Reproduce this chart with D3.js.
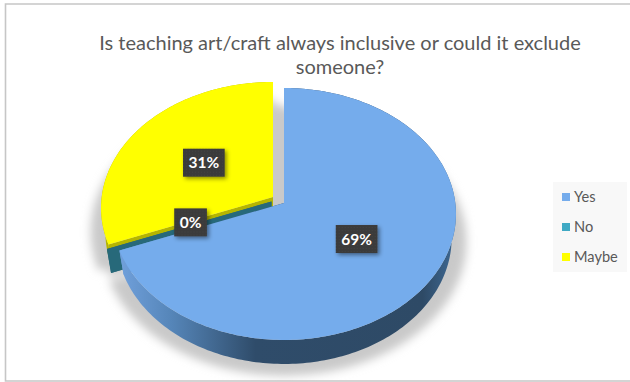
<!DOCTYPE html>
<html>
<head>
<meta charset="utf-8">
<script src="https://cdn.jsdelivr.net/npm/d3@7/dist/d3.min.js"></script>
<style>
  html, body { margin: 0; padding: 0; background: #fff; }
  svg { display: block; }
  text { font-family: Lato, "Open Sans", sans-serif; }
</style>
</head>
<body>
<script>
// Survey answers
const categories = ["Yes", "No", "Maybe"];
const shares = [69, 0, 31];
const titleLines = ["Is teaching art/craft always inclusive or could it exclude", "someone?"];
const topColors = ["#75acec", "#3fa9c4", "#ffff00"];

const width = 630, height = 382;
const svg = d3.select("body").append("svg").attr("width", width).attr("height", height);
const defs = svg.append("defs");

// Tilted-disc projection: the apex sits above the middle of the ellipse
const apex = { x: 284, y: 203 };
const tilt = -0.0873, radiusX = 171.3, radiusY = 125;
const depth = 24, bottomScale = 0.975;
const explode = [{ x: 0, y: 0 }, { x: -12.5, y: -1.5 }, { x: -11, y: -6 }];

function project(angle, r, off, lower) {
  const u = r * Math.sin(angle), v = -r * Math.cos(angle);
  const w = 1 + tilt * v;
  let x = radiusX * u / w, y = radiusY * v / w;
  if (lower) { x *= bottomScale; y += depth; }
  return [apex.x + off.x + x, apex.y + off.y + y];
}

const arcs = d3.pie().sort(null).value(d => d)(shares);
const line = d3.line();
const sweep = (a, off, lower) => {
  const n = Math.max(1, Math.ceil((a.endAngle - a.startAngle) / 0.02));
  return d3.range(n + 1).map(i =>
    project(a.startAngle + (a.endAngle - a.startAngle) * i / n, 1, off, lower));
};
const face = (a, off) => line([project(0, 0, off, false), ...sweep(a, off, false)]) + "Z";

// Soft ground shadow: each slice casts one at its exploded position and one at the closed position
defs.append("filter").attr("id", "ground").attr("x", "-20%").attr("y", "-20%")
  .attr("width", "140%").attr("height", "140%")
  .append("feGaussianBlur").attr("stdDeviation", 5);
const shadow = svg.append("g").attr("filter", "url(#ground)").attr("fill", "#c9c9c9");
arcs.forEach((a, i) => {
  if (a.value === 0) return;
  const grow = 1.06;
  const drop = i === 2 ? 24 : 28;
  [explode[i], explode[0]].forEach(off => {
    const cy = apex.y + off.y + depth / 2;
    shadow.append("path")
      .attr("d", face(a, off))
      .attr("transform", `translate(${apex.x + off.x},${cy + drop}) scale(${grow}) translate(${-(apex.x + off.x)},${-cy})`);
  });
});

// Side wall shades
const wallGrad = defs.append("linearGradient").attr("id", "blueWall")
  .attr("gradientUnits", "userSpaceOnUse").attr("x1", 122).attr("x2", 456).attr("y1", 0).attr("y2", 0);
[[0, "#6f9fda"], [0.15, "#5585b8"], [0.4, "#2f4c6a"], [0.9, "#2e4a66"], [1, "#3f6a95"]]
  .forEach(([o, c]) => wallGrad.append("stop").attr("offset", o).attr("stop-color", c));
const wallFill = ["url(#blueWall)", "#27697a", "#b5b500"];

const drawWall = i => {
  const a = arcs[i], off = explode[i];
  const rim = sweep(a, off, false), low = sweep(a, off, true);
  const g = svg.append("g").attr("fill", wallFill[i]);
  g.append("path").attr("d", line([...rim, ...low.slice().reverse()]) + "Z");
  // straight cut faces running back to the apex
  [a.startAngle, a.endAngle].forEach(t => {
    g.append("path").attr("d", line([
      project(t, 0, off, false), project(t, 1, off, false),
      project(t, 1, off, true), project(t, 0, off, true)]) + "Z");
  });
};

// Painter's order: Maybe and No lie behind Yes
[2, 1, 0].forEach(i => {
  drawWall(i);
  svg.append("path").attr("d", face(arcs[i], explode[i])).attr("fill", topColors[i]);
});

// Title
svg.append("g").selectAll("text").data(titleLines).join("text")
  .attr("x", 340).attr("y", (d, i) => 50 + i * 24)
  .attr("text-anchor", "middle").attr("font-size", 20).attr("fill", "#595959")
  .text(d => d);

// Legend
svg.append("rect").attr("x", 553).attr("y", 182).attr("width", 74).attr("height", 90).attr("fill", "#f8f8f8");
const legendY = d3.scalePoint().domain(categories).range([197, 257]);
const legend = svg.append("g").selectAll("g").data(categories).join("g")
  .attr("transform", d => `translate(562,${legendY(d)})`);
legend.append("rect").attr("y", -4).attr("width", 8).attr("height", 8).attr("fill", (d, i) => topColors[i]);
legend.append("text").attr("x", 12).attr("y", 5).attr("font-size", 14.6).attr("fill", "#595959").text(d => d);

// Value labels
const dots = defs.append("pattern").attr("id", "dots").attr("width", 3).attr("height", 3)
  .attr("patternUnits", "userSpaceOnUse");
dots.append("rect").attr("width", 3).attr("height", 3).attr("fill", "#3a3a3a");
dots.append("rect").attr("width", 1).attr("height", 1).attr("fill", "#444444");
const lift = defs.append("filter").attr("id", "lift").attr("x", "-30%").attr("y", "-30%")
  .attr("width", "170%").attr("height", "170%");
lift.append("feDropShadow").attr("dx", 2).attr("dy", 2).attr("stdDeviation", 2)
  .attr("flood-color", "#000").attr("flood-opacity", 0.45);

arcs.forEach((a, i) => {
  const [x, y] = project((a.startAngle + a.endAngle) / 2, 0.5, explode[i], false);
  const g = svg.append("g").attr("transform", `translate(${x},${y - (i === 1 ? 2.5 : 0)})`);
  const box = g.append("rect").attr("fill", "url(#dots)").attr("filter", "url(#lift)");
  const t = g.append("text").attr("text-anchor", "middle").attr("y", 5.5)
    .attr("font-size", 15.5).attr("font-weight", 700).attr("fill", "#ffffff")
    .text(shares[i] + "%");
  const w = t.node().getComputedTextLength() + 11;
  box.attr("x", -w / 2).attr("y", -14).attr("width", w).attr("height", 28);
});

// Chart frame: top, left and bottom rules only
const frame = svg.append("g").attr("stroke", "#c6c6c6").attr("stroke-width", 1.6).attr("fill", "none");
frame.append("path").attr("d", line([[630, 4], [5.5, 4], [5.5, 381], [630, 381]]));
</script>
</body>
</html>
